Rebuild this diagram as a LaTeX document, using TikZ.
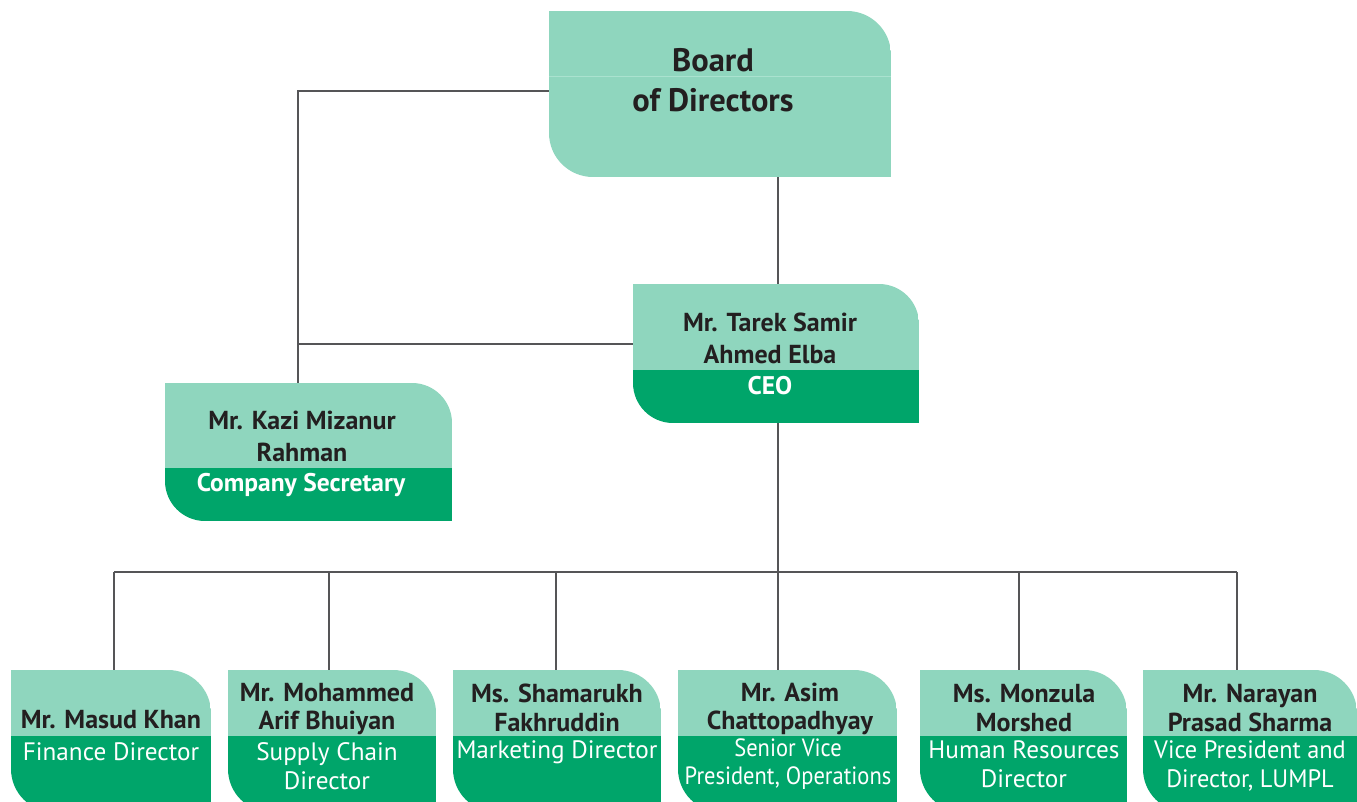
\documentclass[tikz,border=0pt]{standalone}
\usepackage{fontspec}
\setmainfont{PT Sans}
\usetikzlibrary{fit}
\definecolor{lightgr}{RGB}{143,214,190}
\definecolor{darkgr}{RGB}{0,165,106}
\definecolor{linegr}{RGB}{85,85,87}
\definecolor{txt}{RGB}{35,31,32}
\definecolor{seamgr}{RGB}{170,226,207}
\newcommand\orgshape[7]{%
  \path (#2,#3) coordinate (#1-nw) (#4,#5) coordinate (#1-se);
  \node[fit=(#1-nw)(#1-se), inner sep=0pt] (#1) {};
  \begin{scope}
    \clip[rounded corners=#7] (#1-nw) rectangle (#1-se)
      [sharp corners] (#1-nw) rectangle ++(#7,#7) (#1-se) rectangle ++(-#7,-#7);
    \fill[lightgr] (#1-nw) rectangle (#4,#6);
    \fill[darkgr] (#2,#6) rectangle (#1-se);
  \end{scope}}
\tikzset{
  conn/.style={draw=linegr, line width=2.8pt},
  bigname/.style={text=txt, font=\bfseries\fontsize{32.5}{40}\selectfont, align=center, inner sep=0pt},
  namet/.style={text=txt, font=\bfseries\fontsize{26}{32}\selectfont, align=center, inner sep=0pt},
  rolet/.style={text=white, font=\bfseries\fontsize{25.5}{32}\selectfont, align=center, inner sep=0pt},
  bname/.style={text=txt, font=\bfseries\fontsize{26}{28.5}\selectfont, align=center, inner sep=0pt},
  brole/.style={text=white, font=\fontsize{25.2}{28.5}\selectfont, align=center, inner sep=0pt},
}
\begin{document}
\begin{tikzpicture}[x=1pt,y=-1pt]
\useasboundingbox (0,0) rectangle (1357,802);
\fill[white] (0,0) rectangle (1357,802);
% boxes
\orgshape{board}{549}{11}{891}{177}{177}{44}
\draw[draw=seamgr, line width=0.8pt] (549,76) -- (891,76);
\orgshape{ceo}{633}{284}{919}{423}{370}{40}
\orgshape{sec}{165}{383}{452}{521}{468}{40}
\orgshape{b1}{11}{670}{211}{812}{736}{43}
\orgshape{b2}{228}{670}{436}{812}{736}{43}
\orgshape{b3}{453}{670}{661}{812}{736}{43}
\orgshape{b4}{678}{670}{897}{812}{736}{43}
\orgshape{b5}{920}{670}{1127}{812}{736}{43}
\orgshape{b6}{1143}{670}{1357}{812}{736}{43}
% junction coordinates
\coordinate (j1) at (298,91);
\coordinate (j2) at (298,344);
\coordinate (bus) at (778,572);
\coordinate (x1) at (114,572);
\coordinate (x2) at (329,572);
\coordinate (x3) at (556,572);
\coordinate (x5) at (1019,572);
\coordinate (x6) at (1237,572);
% connectors
\draw[conn] (j1 -| board.west) -- (j1) -- (j1 |- sec.north);
\draw[conn] (j2 -| ceo.west) -- (j2);
\draw[conn] (bus |- board.south) -- (bus |- ceo.north);
\draw[conn] (bus |- ceo.south) -- (bus);
\draw[conn] (x1) -- (x6);
\draw[conn] (x1) -- (x1 |- b1.north);
\draw[conn] (x2) -- (x2 |- b2.north);
\draw[conn] (x3) -- (x3 |- b3.north);
\draw[conn] (bus) -- (bus |- b4.north);
\draw[conn] (x5) -- (x5 |- b5.north);
\draw[conn] (x6) -- (x6 |- b6.north);
% texts
\node[bigname] (tboard) at (713,80) {Board\\of Directors};
\node[namet] (tceo) at (770,338) {Mr. Tarek Samir\\Ahmed Elba};
\node[rolet] (rceo) at (770,386) {CEO};
\node[namet] (tsec) at (302,436) {Mr. Kazi Mizanur\\Rahman};
\node[rolet] (rsec) at (301,485) {Company Secretary};
\node[bname] (t1) at (111,720) {Mr. Masud Khan};
\node[brole] (r1) at (111,752) {Finance Director};
\node[bname] (t2) at (327,709) {Mr. Mohammed\\Arif Bhuiyan};
\node[brole] (r2) at (327,766) {Supply Chain\\Director};
\node[bname] (t3) at (557,708) {Ms. Shamarukh\\Fakhruddin};
\node[brole] (r3) at (557,752) {Marketing Director};
\node[bname] (t4) at (790,709) {Mr. Asim\\Chattopadhyay};
\node[brole, font=\fontsize{25}{28}\selectfont\addfontfeatures{FakeStretch=0.9}] (r4) at (788,764) {Senior Vice\\President, Operations};
\node[bname] (t5) at (1024,708) {Ms. Monzula\\Morshed};
\node[brole] (r5) at (1024,764) {Human Resources\\Director};
\node[bname] (t6) at (1250,708) {Mr. Narayan\\Prasad Sharma};
\node[brole, font=\fontsize{25.2}{28.5}\selectfont\addfontfeatures{FakeStretch=0.965}] (r6) at (1250,766) {Vice President and\\Director, LUMPL};
\end{tikzpicture}
\end{document}
